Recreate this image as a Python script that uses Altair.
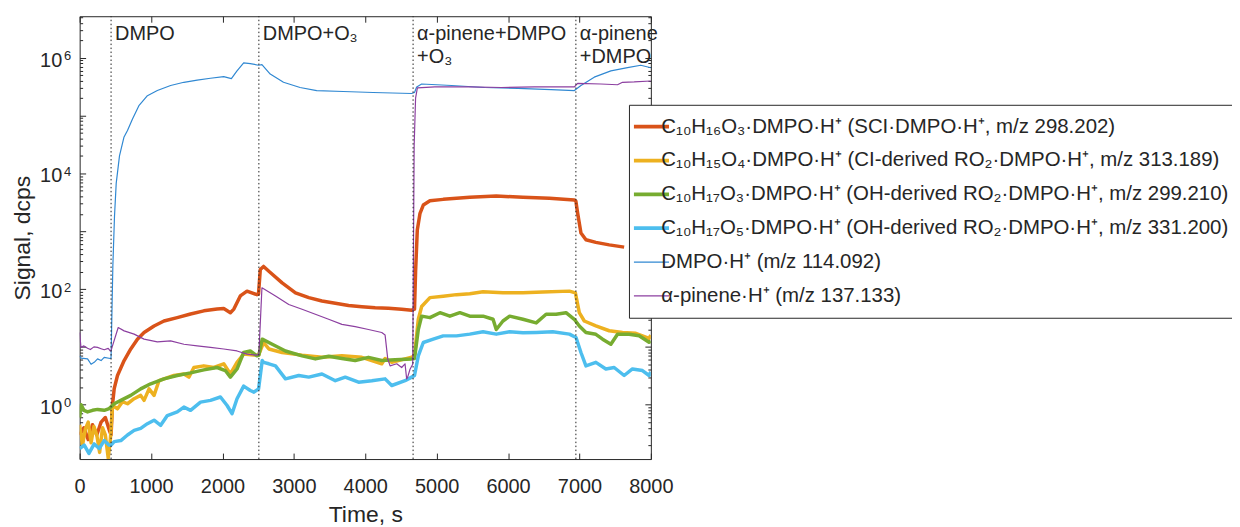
import altair as alt
import pandas as pd

SERIES = [
    "C₁₀H₁₆O₃·DMPO·H⁺ (SCI·DMPO·H⁺, m/z 298.202)",
    "C₁₀H₁₅O₄·DMPO·H⁺ (CI-derived RO₂·DMPO·H⁺, m/z 313.189)",
    "C₁₀H₁₇O₃·DMPO·H⁺ (OH-derived RO₂·DMPO·H⁺, m/z 299.210)",
    "C₁₀H₁₇O₅·DMPO·H⁺ (OH-derived RO₂·DMPO·H⁺, m/z 331.200)",
    "DMPO·H⁺ (m/z 114.092)",
    "α-pinene·H⁺ (m/z 137.133)",
]
COLORS = ["#D95319", "#EDB120", "#77AC30", "#4DBEEE", "#3088D2", "#8C3FA0"]

T_ORANGE = [0, 60, 120, 180, 240, 300, 360, 420, 440, 460, 484, 530, 623, 716, 809, 902, 1042, 1181, 1367, 1553,
            1739, 1925, 2018, 2111, 2160, 2250, 2344, 2483, 2505, 2530, 2576, 2650, 2836, 3023, 3209, 3394, 3581,
            3767, 3952, 4139, 4325, 4510, 4650, 4690, 4705, 4729, 4767, 4813, 4906, 5092, 5464, 5835, 6208, 6580,
            6928, 6950, 6975, 7021, 7091, 7230, 7417, 7626]
V_ORANGE = [0.3, 0.4, 0.25, 0.45, 0.3, 0.5, 0.6, 0.35, 0.3, 1.0, 1.9, 3.2, 5.8, 9.2, 13.6, 17.7, 23, 28, 32, 37,
            42, 45, 46, 39, 45, 76, 92, 80, 82, 217, 246, 203, 128, 86, 71, 62, 57,
            52, 49.6, 47.6, 46.4, 44.7, 43, 45, 200, 1050, 2040, 2830, 3360, 3550, 3860, 4060, 3860, 3700,
            3460, 3300, 2040, 930, 710, 640, 580, 530]

T_YELLOW = [0, 40, 80, 120, 160, 200, 240, 280, 320, 360, 400, 430, 460, 530, 600, 670, 763, 855, 902, 972, 1042,
            1111, 1181, 1320, 1460, 1530, 1600, 1739, 1879, 2018, 2111, 2204, 2297, 2437, 2506, 2557, 2576, 2650,
            2836, 3115, 3394, 3673, 3952, 4231, 4278, 4371, 4557, 4650, 4690, 4743, 4790, 4906, 5092, 5278, 5464,
            5650, 5929, 6208, 6487, 6859, 6943, 6998, 7068, 7230, 7417, 7603, 7789, 7975, 8000]
V_YELLOW = [0.45, 0.2, 0.38, 0.5, 0.22, 0.42, 0.3, 0.15, 0.4, 0.3, 0.12, 0.25, 0.97, 0.85, 1.13, 1.04, 1.27, 1.45,
            1.19, 1.88, 1.45, 2.6, 2.8, 3.2, 3.4, 3.0, 4.4, 4.7, 4.4, 5.1, 3.4, 5.4, 7.5, 7.2, 7.2, 10.4, 11.9, 9.2,
            8.0, 7.2, 6.6, 7.0, 6.6, 5.1, 6.3, 5.4, 6.2, 6.6, 7.0, 30, 50, 71, 75, 80, 83,
            90, 86, 86, 89, 92, 86, 39, 28, 23, 19, 17.7, 17.2, 14, 16]

T_GREEN = [0, 20, 60, 111, 180, 251, 344, 414, 484, 577, 716, 855, 995, 1181, 1367, 1553, 1739, 1925, 2040, 2111,
           2204, 2297, 2390, 2483, 2510, 2557, 2697, 2883, 3115, 3301, 3487, 3673, 3859, 4045, 4231, 4418, 4650,
           4690, 4743, 4790, 4906, 5046, 5185, 5325, 5464, 5650, 5790, 5835, 5929, 6022, 6208, 6394, 6533, 6673,
           6812, 6928, 6998, 7091, 7230, 7324, 7440, 7533, 7696, 7836, 7975, 8000]
V_GREEN = [0.6, 1.0, 0.8, 0.75, 0.8, 0.83, 0.8, 0.86, 1.04, 1.19, 1.45, 1.88, 2.3, 2.8, 3.2, 3.55, 4.0, 4.4, 3.9, 3.0,
           4.15, 8.0, 8.5, 7.0, 7.2, 13.6, 11.1, 8.5, 7.0, 6.2, 6.9, 6.3, 5.8, 6.6, 5.8, 6.0, 6.2,
           6.3, 20, 34, 32, 39, 34, 39, 34, 34, 30, 20, 28, 34, 30, 26, 36.6, 36.6,
           39, 30, 23, 17.7, 16.5, 13.6, 11.1, 16.5, 16.5, 15.6, 12, 12.5]

T_LBLUE = [0, 65, 130, 204, 274, 344, 414, 440, 484, 577, 670, 763, 855, 949, 1042, 1135, 1228, 1367, 1460, 1553,
           1693, 1832, 1972, 2065, 2134, 2204, 2297, 2390, 2441, 2506, 2557, 2576, 2650, 2743, 2883, 3069, 3209,
           3394, 3581, 3720, 3906, 4092, 4278, 4371, 4557, 4650, 4690, 4743, 4813, 4952, 5092, 5278, 5464, 5650,
           5835, 6022, 6208, 6394, 6626, 6859, 6952, 7021, 7091, 7230, 7370, 7486, 7626, 7742, 7882, 7975, 8000]
V_LBLUE = [0.175, 0.2, 0.144, 0.21, 0.175, 0.24, 0.2, 0.2, 0.23, 0.24, 0.3, 0.36, 0.39, 0.47, 0.54, 0.44, 0.65, 0.75,
           0.91, 0.8, 1.11, 1.19, 1.36, 0.97, 0.7, 1.27, 2.1, 1.76, 1.65, 1.88, 5.8, 5.4, 5.1, 4.7, 2.8, 3.2, 3.0,
           3.4, 2.6, 3.0, 2.45, 2.6, 2.8, 2.15, 2.6, 3.0, 3.2, 7, 11.9, 13.6, 15.5, 15.5, 16.6, 18.2,
           16.6, 18.2, 17.5, 17.7, 18.2, 16.6, 14.5, 8, 4.7, 5.4, 4.15, 4.4, 3.2, 4.15, 3.9, 3.2, 3.7]

T_DMPO = [0, 20, 111, 160, 204, 251, 300, 344, 428, 440, 455, 465, 488, 512, 558, 620, 670, 740, 833, 949, 1088,
          1274, 1460, 1646, 1832, 2018, 2125, 2204, 2297, 2390, 2506, 2553, 2669, 2855, 3087, 3320, 3692, 4111,
          4650, 4690, 4720, 4790, 5209, 5673, 6138, 6603, 6929, 7021, 7207, 7440, 7673, 7859, 8000]
V_DMPO = [7.0, 6.4, 6.2, 5.0, 5.4, 6.2, 5.8, 6.6, 6.3, 6.5, 60, 250, 1800, 6700, 20000, 42000, 55000, 87000, 150000,
          220000, 270000, 330000, 375000, 410000, 440000, 470000, 435000, 590000, 810000, 790000, 740000, 760000,
          520000, 375000, 305000, 270000, 260000, 250000, 240000, 250000, 312000, 350000, 330000, 305000, 295000,
          280000, 270000, 330000, 460000, 590000, 670000, 740000, 670000]

T_PURPLE = [0, 18, 60, 111, 150, 200, 251, 300, 344, 400, 428, 440, 460, 540, 623, 763, 902, 1088, 1274, 1460, 1646,
            1832, 2018, 2204, 2344, 2483, 2510, 2553, 2743, 2929, 3115, 3301, 3487, 3673, 3859, 4045, 4231, 4278,
            4315, 4348, 4441, 4510, 4557, 4580, 4594, 4627, 4665, 4685, 4705, 4730, 4976, 5441, 5906, 6371, 6929,
            6975, 7300, 7533, 7603, 7766, 8000]
V_PURPLE = [17.7, 9.8, 10.4, 9.5, 9.0, 10.0, 9.8, 9.3, 8.9, 9.4, 8.5, 8.6, 10.4, 21.6, 18.9, 16.6, 13.6, 12.2, 12.7,
            11.1, 10.4, 9.8, 9.2, 8.5, 7.5, 7.2, 7.5, 105, 76, 54, 44.7, 36.6, 30, 24.5, 22.4, 20, 17.7, 16,
            6.2, 4.7, 5.1, 4.4, 5.1, 2.8, 3.0, 4.1, 5.0, 30000, 200000, 300000, 312000, 312000, 305000, 312000,
            312000, 360000, 350000, 340000, 375000, 380000, 395000]

PHASE_T = [440, 2510, 4670, 6950]
PHASE_LABELS = ["DMPO", "DMPO+O₃", "α-pinene+DMPO\n+O₃", "α-pinene\n+DMPO"]

X_TICKS = [0, 1000, 2000, 3000, 4000, 5000, 6000, 7000, 8000]
Y_LABEL_TICKS = [1, 100, 10000, 1000000]
X_DOMAIN = [0, 8000]
Y_DOMAIN = [0.115, 5.2e6]

W, H = 574, 445
INK = "#262626"
FONT = "Liberation Sans"

T_ALL = [T_ORANGE, T_YELLOW, T_GREEN, T_LBLUE, T_DMPO, T_PURPLE]
V_ALL = [V_ORANGE, V_YELLOW, V_GREEN, V_LBLUE, V_DMPO, V_PURPLE]


def frame(names, ts_list, vs_list):
    rows = []
    for name, ts, vs in zip(names, ts_list, vs_list):
        for t, v in zip(ts, vs):
            rows.append({"series": name, "t": t, "v": v})
    return pd.DataFrame(rows)


df_thick = frame(SERIES[:4], T_ALL[:4], V_ALL[:4])
df_thin = frame(SERIES[4:], T_ALL[4:], V_ALL[4:])
phase_df = pd.DataFrame({"t": PHASE_T, "label": PHASE_LABELS})

y_minor = [m * 10.0 ** k for k in range(-1, 7) for m in range(1, 10)
           if Y_DOMAIN[0] <= m * 10.0 ** k <= Y_DOMAIN[1]]
MAJOR = "abs(log(datum.value)/LN10 - round(log(datum.value)/LN10)) < 0.001"
ytick_size = {"condition": {"test": MAJOR, "value": 6}, "value": 3}

xs = alt.Scale(domain=X_DOMAIN, nice=False, zero=False)
ys = alt.Scale(type="log", domain=Y_DOMAIN, nice=False)

legend = alt.Legend(
    title=None, orient="none", legendX=552, legendY=89, direction="vertical", symbolType="stroke",
    symbolSize=2500, clipHeight=34, labelFontSize=20.5, labelFont=FONT, labelColor=INK, labelLimit=1000,
    labelOffset=7, padding=5, rowPadding=0, strokeColor=INK, fillColor="white",
    symbolStrokeWidth={"expr": "datum.index >= 4 ? 1.3 : 3.8"})
color = alt.Color("series:N", scale=alt.Scale(domain=SERIES, range=COLORS), legend=legend)

thick = alt.Chart(df_thick).mark_line(clip=True, strokeJoin="round", strokeWidth=3.5).encode(
    x=alt.X("t:Q", scale=xs, axis=alt.Axis(
        orient="bottom", title="Time, s", values=X_TICKS, format="d", ticks=False, tickSize=0,
        domain=False, grid=False, labelFontSize=20, labelPadding=18, labelFlush=False,
        titleFontSize=23, titlePadding=7)),
    y=alt.Y("v:Q", scale=ys, axis=alt.Axis(
        orient="left", title="Signal, dcps", values=Y_LABEL_TICKS, labelExpr="'10'", ticks=False,
        tickSize=0, domain=False, grid=False, labelFontSize=20, labelPadding=18, labelOffset=2.5,
        labelFlush=False, titleFontSize=23, titlePadding=5)),
    color=color,
)

thin = alt.Chart(df_thin).mark_line(clip=True, strokeJoin="round", strokeWidth=1.2).encode(
    x=alt.X("t:Q", scale=xs, axis=None),
    y=alt.Y("v:Q", scale=ys, axis=alt.Axis(
        orient="left", title=None, values=Y_LABEL_TICKS, labelExpr="round(log(datum.value)/LN10) + ''",
        ticks=False, tickSize=0, domain=False, grid=False, labelFontSize=13, labelPadding=9,
        labelOffset=-2, labelFlush=False)),
    color=color,
)

rules = alt.Chart(phase_df).mark_rule(color="#222222", strokeWidth=1, strokeDash=[1.5, 2.5]).encode(
    x=alt.X("t:Q", scale=xs, axis=alt.Axis(
        orient="top", offset=-H, values=X_TICKS, labels=False, domain=False, grid=False, tickSize=6,
        tickColor=INK, title=None)),
    y=alt.YDatum(Y_DOMAIN[0], type="quantitative", scale=ys, axis=alt.Axis(
        orient="right", offset=-W, values=y_minor, labels=False, domain=False, grid=False,
        tickSize=ytick_size, tickColor=INK, title=None)),
    y2=alt.Y2Datum(Y_DOMAIN[1]),
)

texts = alt.Chart(phase_df).mark_text(
    align="left", baseline="alphabetic", dx=4, dy=24, fontSize=20, font=FONT, color=INK,
    lineBreak="\n", lineHeight=23).encode(
    x=alt.X("t:Q", scale=xs, axis=alt.Axis(
        orient="bottom", offset=-H, values=X_TICKS, labels=False, domain=False, grid=False, tickSize=6,
        tickColor=INK, title=None)),
    y=alt.YDatum(Y_DOMAIN[1], type="quantitative", scale=ys, axis=alt.Axis(
        orient="left", offset=-W, values=y_minor, labels=False, domain=False, grid=False,
        tickSize=ytick_size, tickColor=INK, title=None)),
    text="label:N",
)

chart = alt.layer(thick, thin, rules, texts).resolve_axis(x="independent", y="independent").properties(
    width=W, height=H,
    autosize=alt.AutoSizeParams(type="none"),
    padding={"left": 72, "top": 7, "right": 584, "bottom": 67},
    background="white",
).configure_view(stroke=INK, strokeWidth=1).configure_axis(
    labelColor=INK, titleColor=INK, labelFont=FONT, titleFont=FONT, titleFontWeight="normal", tickWidth=1,
)

chart.save("out.html", embed_options={"renderer": "svg", "actions": False})
